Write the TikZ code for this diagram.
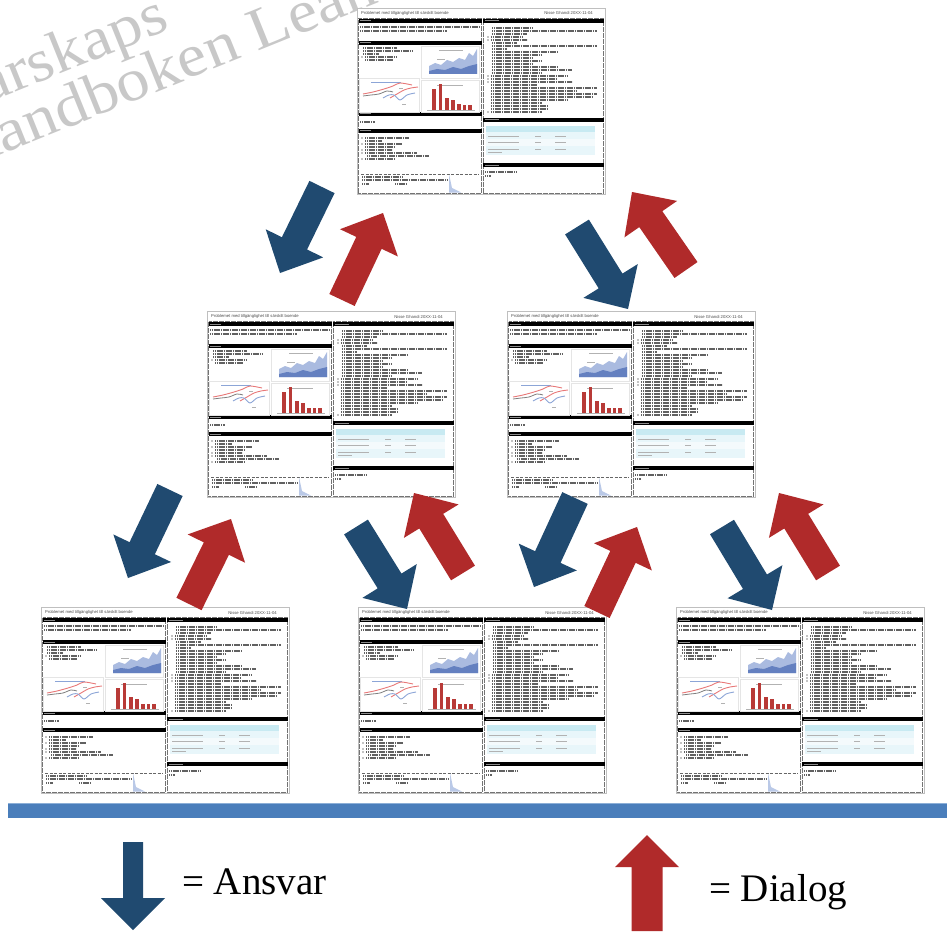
\documentclass[tikz,border=0pt]{standalone}
\usepackage{fontspec}
\setmainfont{Liberation Serif}
\newfontfamily\docfont{Liberation Sans}
\newfontfamily\wmfont[FakeStretch=1.1]{Liberation Serif}
\usetikzlibrary{calc}
\definecolor{arblue}{RGB}{32,74,112}
\definecolor{arred}{RGB}{176,42,42}
\definecolor{barblue}{RGB}{74,126,187}
\definecolor{barline}{RGB}{140,175,215}
\definecolor{wmgray}{RGB}{200,200,200}
\definecolor{areal}{RGB}{170,187,224}
\definecolor{aread}{RGB}{100,128,192}
\definecolor{chred}{RGB}{184,58,55}
\definecolor{lnred}{RGB}{232,120,120}
\definecolor{lnblue}{RGB}{140,165,215}
\definecolor{tabcyan}{RGB}{200,234,242}
\definecolor{tabrow}{RGB}{232,246,250}
\newcommand\bkarrow[5]{%
  \path ($(#2)!#5!(#1)$) coordinate (bkb);
  \fill[#4] ($(#1)!#3!90:(#2)$) -- ($(bkb)!#3!90:(#2)$) -- ($(bkb)!32pt!90:(#2)$) -- (#2)
    -- ($(bkb)!32pt!-90:(#2)$) -- ($(bkb)!#3!-90:(#2)$) -- ($(#1)!#3!-90:(#2)$) -- cycle;
}
\tikzset{
  txt/.style={line width=1.1pt, draw=black!62, dash pattern=on 1.3pt off 0.5pt},
  ftxt/.style={line width=0.8pt, draw=black!30},
  secbox/.style={draw=black!55, line width=0.6pt, dash pattern=on 0.6pt off 0.6pt},
  hbar/.style={fill=black},
  docedge/.style={draw=black!25, line width=0.6pt},
  hdrtxt/.style={font=\docfont\fontsize{4.2}{5}\selectfont, text=black!70, inner sep=0pt},
  legtxt/.style={font=\fontsize{39}{44}\selectfont, inner sep=0pt},
  wm/.style={font=\wmfont\fontsize{60}{64}\selectfont, text=wmgray, inner sep=0pt},
  a3doc/.pic={
    \fill[white] (0,0) rectangle (248,186);
    \draw[docedge] (0,0) rectangle (248,186);
    \node[hdrtxt, anchor=west] (-ttl) at (4,5.5) {Problemet med tillgänglighet till särskilt boende};
    \node[hdrtxt, anchor=east] (-aut) at (236,5.5) {Nisse Ghandi 20XX-11-04};
    \draw[secbox] (1.5,10.5) rectangle (124.5,185);
    \draw[secbox] (126,10.5) rectangle (246.5,185);
    \foreach \y in {11,33,104,121} {
      \fill[hbar] (1.5,\y) rectangle (124.5,\y+4);
      \draw[black!45, line width=1pt] (3,\y+2) -- (14,\y+2);
    }
    \foreach \y in {11,110,155} {
      \fill[hbar] (126,\y) rectangle (246.5,\y+4);
      \draw[black!45, line width=1pt] (128,\y+2) -- (142,\y+2);
    }
    % section 1
    \draw[txt] (3,19) -- (122,19);
    \draw[txt] (3,23) -- (90,23);
    % section 2 text
    \foreach \y/\a/\b in {40/6/40, 43/6/55, 46/6/22, 49/8/40, 52/8/36}
      \draw[txt] (\a,\y) -- (\b,\y);
    \fill (5,49) circle (0.6);
    % area chart
    \draw[ftxt, draw=black!10, line width=0.4pt] (64,38) rectangle (122,70);
    \draw[ftxt] (82,42) -- (106,42);
    \fill[areal] (72,66) -- (72,58) -- (78,55) -- (84,57) -- (90,52) -- (96,54) -- (102,50)
      -- (108,52) -- (112,45) -- (116,48) -- (120,41) -- (120,66) -- cycle;
    \fill[aread] (72,66) -- (72,63) -- (80,61) -- (88,62) -- (96,59) -- (104,61) -- (112,58)
      -- (120,56) -- (120,66) -- cycle;
    \draw[ftxt, line width=0.6pt] (80,51) -- (88,51);
    % line chart
    \draw[ftxt, draw=black!10, line width=0.4pt] (2,70) rectangle (62,104);
    \draw[lnblue, line width=0.8pt] (14,74) -- (44,74);
    \draw[lnred, line width=0.9pt] plot[smooth] coordinates {(6,86) (16,84) (27,81) (36,78) (43,75) (55,77)};
    \draw[lnred, line width=0.9pt] plot[smooth] coordinates {(33,90) (40,86) (47,82) (54,80) (61,79)};
    \draw[black!50, line width=0.8pt] plot[smooth] coordinates {(6,88) (14,87) (22,86) (30,83) (36,84)};
    \draw[lnblue, line width=0.9pt] plot[smooth] coordinates {(26,90) (32,87) (37,87) (43,92) (50,87) (58,85)};
    \draw[ftxt, line width=0.6pt] (42,80) -- (46,80);
    \draw[ftxt, line width=0.6pt] (45,96) -- (49,96);
    % bar chart
    \draw[ftxt, draw=black!10, line width=0.4pt] (64,72) rectangle (122,104);
    \draw[ftxt] (80,77) -- (106,77);
    \foreach \a/\t in {75/81, 81.5/76, 88/90, 94/92, 100/96.5, 105.5/97, 111/97}
      \fill[chred] (\a,102) rectangle (\a+3.5,\t);
    \draw[black!30, line width=0.4pt] (70,102) -- (118,102);
    % section 3
    \draw[txt] (3,114) -- (18,114);
    % section 4
    \foreach \y/\a/\b in {130/8/52, 133/8/25, 136/8/45, 139/8/38, 142/8/35, 145/8/60, 148/10/72, 151/8/38}
      \draw[txt] (\a,\y) -- (\b,\y);
    \foreach \y in {130,136,142,145,151} \fill (5,\y) circle (0.6);
    \draw[line width=1pt, black!60, dash pattern=on 3pt off 1.5pt] (4,166) -- (122,166);
    \foreach \y/\a/\b in {169/5/45, 172/5/90, 176/5/12, 176/38/50}
      \draw[txt] (\a,\y) -- (\b,\y);
    \fill[lnblue!60] (92,166) -- (95,180) -- (104,184.5) -- (92,184.5) -- cycle;
    % right column text
    \foreach \y/\a/\b in {20/135/175, 23/135/240, 26/135/170, 29/134/165, 32/134/170, 35/135/160,
        38/135/240, 41/135/150, 44/135/200, 47/135/185, 50/135/175, 53/135/185, 56/135/175,
        59/135/200, 62/135/215, 65/135/185, 68/134/210, 71/134/200, 74/134/215, 77/134/180,
        80/134/240, 83/134/220, 86/134/240, 89/134/235, 92/134/210, 95/134/185, 98/134/190,
        101/134/190, 104/134/185}
      \draw[txt] (\a,\y) -- (\b,\y);
    \foreach \y in {29,32,68,71,74,104} \fill (131,\y) circle (0.6);
    % table
    \fill[tabcyan] (129,118) rectangle (238,124);
    \fill[tabrow] (129,124) rectangle (238,131);
    \fill[tabrow!50] (129,131) rectangle (238,138);
    \fill[tabrow] (129,138) rectangle (238,147);
    \foreach \y in {128,134.5,141}
      \draw[ftxt, line width=0.6pt] (131,\y) -- (162,\y) (178,\y) -- (184,\y) (198,\y) -- (209,\y);
    \draw[ftxt, line width=0.6pt] (131,144) -- (145,144);
    % section 7
    \draw[txt] (128,164) -- (160,164);
    \draw[txt] (128,168) -- (134,168);
  }
}
\begin{document}
\begin{tikzpicture}[x=1pt, y=-1pt]
\useasboundingbox (0,0) rectangle (947,931);
\clip (0,0) rectangle (947,931);
\fill[white] (0,0) rectangle (947,931);
% watermark
\node[wm, rotate=22, anchor=base west] (wm1) at (-108,142) {Ledarskaps};
\node[wm, rotate=22, anchor=base west] (wm2) at (-26,166) {handboken Lean};
% documents
\pic (dtop) at (357,8) {a3doc};
\pic (dml) at (207,311) {a3doc};
\pic (dmr) at (507,311) {a3doc};
\pic (dbl) at (41,607) {a3doc};
\pic (dbm) at (358,607) {a3doc};
\pic (dbr) at (676,607) {a3doc};
% arrows
\coordinate (a1t) at (322,187); \coordinate (a1h) at (280,273);
\coordinate (a2t) at (342,300); \coordinate (a2h) at (383,213);
\coordinate (a3t) at (577,227); \coordinate (a3h) at (628,309);
\coordinate (a4t) at (686,270); \coordinate (a4h) at (632,192);
\coordinate (b1t) at (170,490); \coordinate (b1h) at (128,578);
\coordinate (b2t) at (189,604); \coordinate (b2h) at (231,519);
\coordinate (b3t) at (356,527); \coordinate (b3h) at (407,609);
\coordinate (b4t) at (463,573); \coordinate (b4h) at (414,493);
\coordinate (b5t) at (575,498); \coordinate (b5h) at (534,587);
\coordinate (b6t) at (597,612); \coordinate (b6h) at (637,527);
\coordinate (b7t) at (722,527); \coordinate (b7h) at (772,610);
\coordinate (b8t) at (828,573); \coordinate (b8h) at (779,493);
\bkarrow{a1t}{a1h}{14pt}{arblue}{33pt}
\bkarrow{a2t}{a2h}{14pt}{arred}{33pt}
\bkarrow{a3t}{a3h}{14pt}{arblue}{33pt}
\bkarrow{a4t}{a4h}{14pt}{arred}{33pt}
\bkarrow{b1t}{b1h}{14pt}{arblue}{33pt}
\bkarrow{b2t}{b2h}{14pt}{arred}{33pt}
\bkarrow{b3t}{b3h}{14pt}{arblue}{33pt}
\bkarrow{b4t}{b4h}{14pt}{arred}{33pt}
\bkarrow{b5t}{b5h}{14pt}{arblue}{33pt}
\bkarrow{b6t}{b6h}{14pt}{arred}{33pt}
\bkarrow{b7t}{b7h}{14pt}{arblue}{33pt}
\bkarrow{b8t}{b8h}{14pt}{arred}{33pt}
% ground bar
\fill[barblue] (8,803) rectangle (947,818);
\draw[barline, line width=1pt] (8,803) -- (947,803);
% legend
\coordinate (l1t) at (133,842); \coordinate (l1h) at (133,930);
\coordinate (l2t) at (647,931); \coordinate (l2h) at (647,835);
\bkarrow{l1t}{l1h}{10pt}{arblue}{32pt}
\bkarrow{l2t}{l2h}{15.5pt}{arred}{32pt}
\node[legtxt, anchor=base west] (ansvar) at (182,894) {= Ansvar};
\node[legtxt, anchor=base west] (dialog) at (709,901) {= Dialog};
\end{tikzpicture}
\end{document}
